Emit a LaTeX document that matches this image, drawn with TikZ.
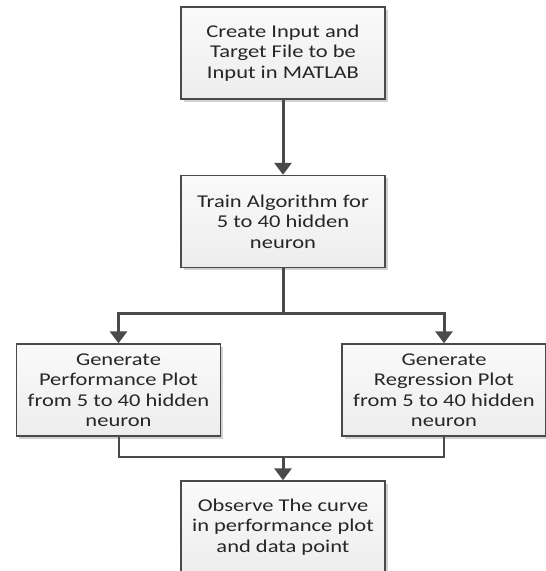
\documentclass[tikz,border=0pt]{standalone}
\usepackage{fontspec}
\setmainfont[FakeStretch=1.25]{Carlito}
\usetikzlibrary{arrows.meta,shadows}
\definecolor{edgegray}{HTML}{4A4A4A}
\definecolor{textgray}{HTML}{262626}
\begin{document}
\begin{tikzpicture}[x=1pt,y=1pt,
        stepbox/.style={draw=edgegray,rectangle,line width=1.4pt,top color=gray!4,bottom color=gray!14,
          minimum width=204pt,minimum height=92pt,align=center,text=textgray,
          font=\fontsize{18}{20.5}\selectfont,
          drop shadow={shadow xshift=2.5pt,shadow yshift=-2.5pt,opacity=0.18,fill=black}},
        link/.style={draw=edgegray,line width=3pt,-{Triangle[width=17pt,length=12pt]}},
        joinline/.style={draw=edgegray,line width=2pt}
      ]
      \useasboundingbox (0,0) rectangle (546,-571);
      \clip (0,0) rectangle (546,-571);
      \node[stepbox] (create) at (283,-53) {Create Input and\\Target File to be\\Input in MATLAB};
      \node[stepbox] (train) at (283,-221.5) {Train Algorithm for\\5 to 40 hidden\\neuron};
      \node[stepbox] (perf) at (118.5,-390) {Generate\\Performance Plot\\from 5 to 40 hidden\\neuron};
      \node[stepbox] (regr) at (444,-390) {Generate\\Regression Plot\\from 5 to 40 hidden\\neuron};
      \node[stepbox] (observe) at (283,-527) {Observe The curve\\in performance plot\\and data point};
      \coordinate (split) at (283,-313);
      \coordinate (join) at (283,-457);
      \draw[link] (create.south) -- (train.north);
      \draw[link] (train.south) -- (split) -| (perf.north);
      \draw[link] (split) -| (regr.north);
      \draw[joinline] (perf.south) |- (join) -| (regr.south);
      \draw[link] (join) -- (observe.north);
    \end{tikzpicture}
\end{document}
